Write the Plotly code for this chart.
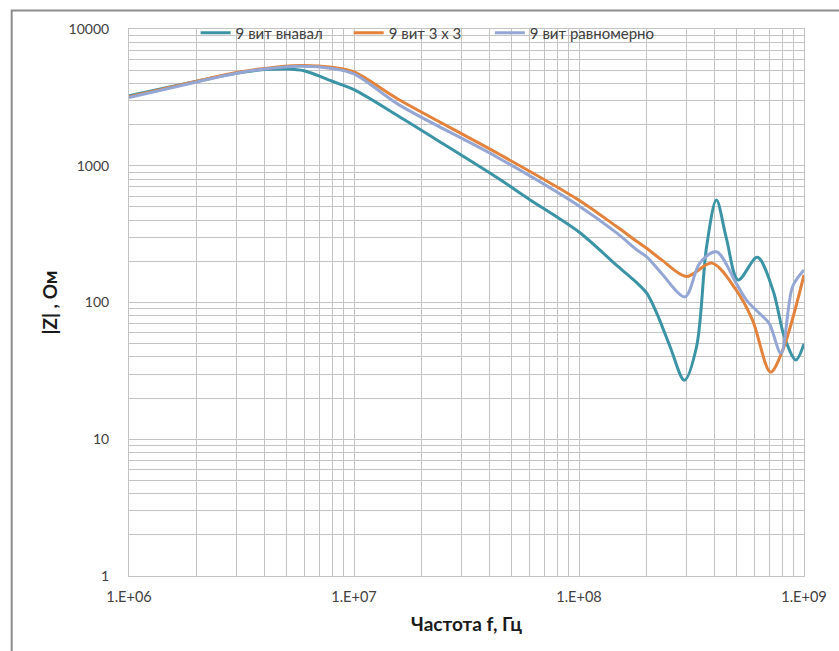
import plotly.graph_objects as go

# Frequency sweeps (Hz) and impedance magnitude (Ohm) for each winding variant
f_random = [1e6, 1.5e6, 2e6, 3e6, 4e6, 5e6, 6e6, 8e6, 1e7, 1.58e7, 2.5e7, 4.35e7, 6e7,
            1e8, 1.48e8, 1.81e8, 2.0e8, 2.22e8, 2.54e8, 2.94e8, 3.33e8, 3.69e8, 4.08e8,
            4.52e8, 5.1e8, 6.2e8, 7.28e8, 8.18e8, 9.2e8, 1e9]
z_random = [3250, 3750, 4150, 4750, 5050, 5100, 4950, 4150, 3600, 2300, 1440, 813, 570,
            328, 185, 139, 117, 83, 47.5, 27, 47.5, 256, 562,
            294, 146, 214, 123, 56, 38, 50]

f_3x3 = [1e6, 2e6, 3e6, 4e6, 5.7e6, 8e6, 1e7, 1.58e7, 4.35e7, 1e8, 1.48e8, 1.81e8,
         2.0e8, 2.33e8, 3.0e8, 3.9e8, 5.0e8, 5.9e8, 7.1e8, 8.05e8, 1e9]
z_3x3 = [3200, 4150, 4800, 5150, 5400, 5250, 4850, 3050, 1233, 560, 356, 279,
         249, 205, 155, 194, 123, 74.5, 31, 45, 159]

f_even = [1e6, 2e6, 3e6, 4e6, 5.7e6, 8e6, 1e7, 1.58e7, 4.35e7, 1e8, 1.48e8, 1.81e8,
          2.0e8, 2.33e8, 2.96e8, 3.44e8, 4.08e8, 5.0e8, 5.55e8, 6.35e8, 7.0e8, 7.9e8,
          8.9e8, 1e9]
z_even = [3150, 4100, 4750, 5100, 5350, 5150, 4700, 2800, 1150, 508, 320, 242,
          216, 163, 110, 194, 235, 138, 104, 83, 70.5, 42.5,
          131, 173]

series_names = ["9 вит внавал", "9 вит 3 x 3", "9 вит равномерно"]
series_colors = ["#3b93a6", "#e3823b", "#94a6d4"]

x_tickvals = [1e6, 1e7, 1e8, 1e9]
x_ticktext = ["1.E+06", "1.E+07", "1.E+08", "1.E+09"]
y_tickvals = [1, 10, 100, 1000, 10000]
y_ticktext = ["1", "10", "100", "1000", "10000"]

FONT = "Lato, 'Open Sans', sans-serif"
GRID = "#c3c3c3"
TEXT = "#404040"

fig = go.Figure()
data = [(f_random, z_random), (f_3x3, z_3x3), (f_even, z_even)]
legends = ["legend", "legend2", "legend3"]
for (fx, zy), name, color, lg in zip(data, series_names, series_colors, legends):
    fig.add_trace(go.Scatter(
        x=fx, y=zy, mode="lines", name=name, legend=lg, showlegend=True,
        line=dict(color=color, width=3, shape="spline", smoothing=0.9),
    ))

W, H = 839, 651
L, R, T, B = 129, 31, 29, 75
pw, ph = W - L - R, H - T - B

def px_x(x):
    return (x - L) / pw

def px_y(y):
    return (H - B - y) / ph

legend_common = dict(
    orientation="h", yanchor="middle", xanchor="left",
    bgcolor="rgba(0,0,0,0)", borderwidth=0,
    font=dict(family=FONT, size=15, color=TEXT),
    itemwidth=30, tracegroupgap=0,
)

fig.update_layout(
    width=W, height=H,
    margin=dict(l=L, r=R, t=T, b=B),
    paper_bgcolor="white", plot_bgcolor="white",
    font=dict(family=FONT, color=TEXT),
    showlegend=True,
    legend=dict(x=px_x(196), y=px_y(33), **legend_common),
    legend2=dict(x=px_x(350), y=px_y(33), **legend_common),
    legend3=dict(x=px_x(492), y=px_y(33), **legend_common),
    xaxis=dict(
        type="log", range=[6, 9],
        tickvals=x_tickvals, ticktext=x_ticktext,
        tickfont=dict(family=FONT, size=14.5, color=TEXT),
        showgrid=True, gridcolor=GRID, gridwidth=1,
        minor=dict(showgrid=True, gridcolor=GRID, gridwidth=1, dtick="D1"),
        showline=True, linecolor=GRID, linewidth=1, mirror=True,
        zeroline=False, ticks="", ticklen=0, ticklabelstandoff=8,
        title=dict(text="Частота f, Гц", font=dict(family=FONT, size=19, color="#1a1a1a", weight="bold"),
                   standoff=13),
    ),
    yaxis=dict(
        type="log", range=[0, 4],
        tickvals=y_tickvals, ticktext=y_ticktext,
        tickfont=dict(family=FONT, size=14, color=TEXT),
        showgrid=True, gridcolor=GRID, gridwidth=1,
        minor=dict(showgrid=True, gridcolor=GRID, gridwidth=1, dtick="D1"),
        showline=True, linecolor=GRID, linewidth=1, mirror=True,
        zeroline=False, ticks="", ticklen=0, ticklabelstandoff=16,
        title=dict(text="|Z| , Ом", font=dict(family=FONT, size=19, color="#1a1a1a", weight="bold"),
                   standoff=5),
    ),
    shapes=[
        # outer chart frame
        dict(type="rect", xref="paper", yref="paper", layer="above",
             x0=px_x(11), x1=px_x(860), y0=px_y(680), y1=px_y(10.5),
             line=dict(color="#8c8c8c", width=2), fillcolor="rgba(0,0,0,0)"),
    ],
)

fig.write_html("out.html")
